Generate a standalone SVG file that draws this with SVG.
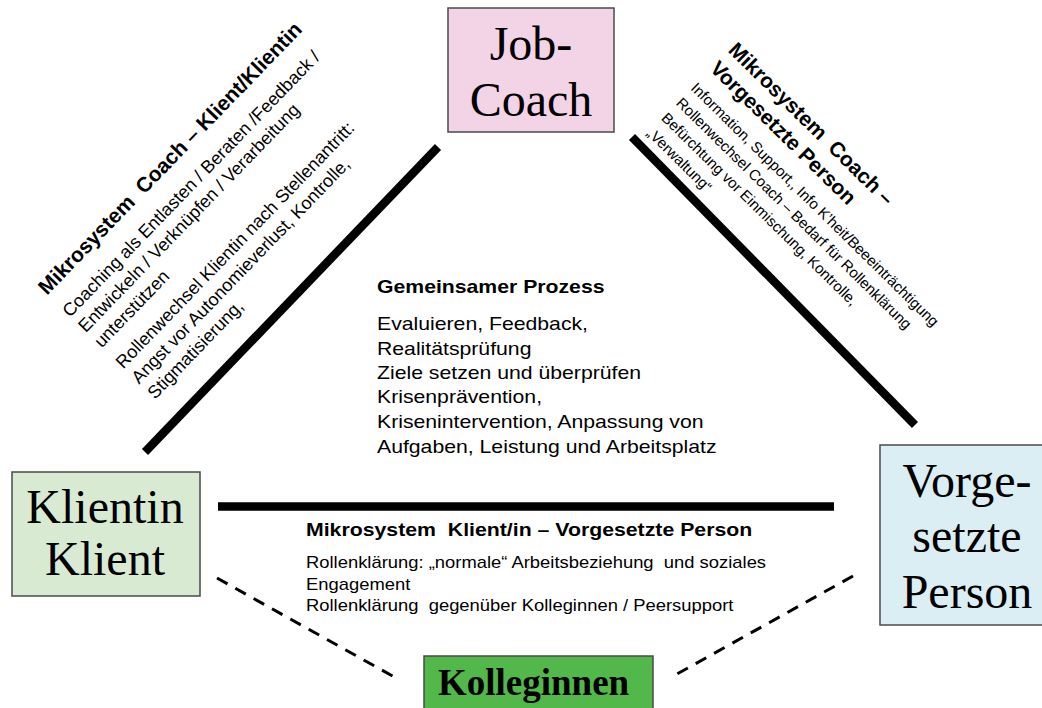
<svg xmlns="http://www.w3.org/2000/svg" width="1042" height="708" viewBox="0 0 1042 708">
<style>
.box{stroke:#4a4a4a;stroke-width:1.5}
.big{font-family:"Liberation Serif","Times New Roman",serif;font-size:48px;fill:#000;text-anchor:middle}
.sans{font-family:"Liberation Sans",Arial,sans-serif;fill:#000}
.b{font-weight:bold}
.thick{stroke:#000;stroke-width:8.5;fill:none}
.dash{stroke:#000;stroke-width:3;stroke-dasharray:12 9;fill:none}
</style>
<rect width="1042" height="708" fill="#fff"/>
<g id="connectors">
<line class="thick" x1="145" y1="452" x2="438" y2="147"/>
<line class="thick" x1="632" y1="137" x2="915" y2="425"/>
<line class="thick" x1="218" y1="506.5" x2="834" y2="506.5"/>
<line class="dash" x1="217" y1="578" x2="396" y2="678"/>
<line class="dash" x1="853" y1="576" x2="677" y2="674"/>
</g>
<g id="job-coach">
<rect class="box" x="448" y="8" width="166" height="124" fill="#f3d3e6"/>
<text class="big" x="531" y="60">Job-</text>
<text class="big" x="531" y="116">Coach</text>
</g>
<g id="klientin">
<rect class="box" x="12" y="472" width="188" height="124" fill="#d9ead3"/>
<text class="big" x="105" y="523">Klientin</text>
<text class="big" x="105" y="575">Klient</text>
</g>
<g id="vorgesetzte">
<rect class="box" x="880" y="445" width="175" height="180" fill="#daeef4"/>
<text class="big" x="967" y="497">Vorge-</text>
<text class="big" x="967" y="552">setzte</text>
<text class="big" x="967" y="608">Person</text>
</g>
<g id="kolleginnen">
<rect class="box" x="424" y="656" width="229" height="60" fill="#52b84a"/>
<text x="438" y="695" font-family="Liberation Serif, serif" font-weight="bold" font-size="37px">Kolleginnen</text>
</g>
<g id="label-coach-klient" class="sans" transform="translate(70,318) rotate(-46)" font-size="18px">
<text class="b" y="-32" font-size="21px" xml:space="preserve">Mikrosystem  Coach – Klient/Klientin</text>
<text y="0">Coaching als Entlasten / Beraten /Feedback /</text>
<text y="22">Entwickeln / Verknüpfen / Verarbeitung</text>
<text y="44">unterstützen</text>
<text y="74">Rollenwechsel Klientin nach Stellenantritt:</text>
<text y="96">Angst vor Autonomieverlust, Kontrolle,</text>
<text y="118">Stigmatisierung,</text>
</g>
<g id="label-coach-vorgesetzte" class="sans" transform="translate(690,89) rotate(44.5)" font-size="15px">
<text class="b" y="-53" font-size="21px" xml:space="preserve">Mikrosystem  Coach –</text>
<text class="b" y="-27" font-size="21px">Vorgesetzte Person</text>
<text y="0">Information, Support,, Info K’heit/Beeeinträchtigung</text>
<text y="21">Rollenwechsel Coach – Bedarf für Rollenklärung</text>
<text y="42">Befürchtung vor Einmischung, Kontrolle,</text>
<text y="63">„Verwaltung“</text>
</g>
<g id="label-prozess" class="sans" transform="translate(377,0) scale(1.16,1)" font-size="18.3px">
<text class="b" y="293">Gemeinsamer Prozess</text>
<text y="330">Evaluieren, Feedback,</text>
<text y="355">Realitätsprüfung</text>
<text y="379">Ziele setzen und überprüfen</text>
<text y="403">Krisenprävention,</text>
<text y="428">Krisenintervention, Anpassung von</text>
<text y="453">Aufgaben, Leistung und Arbeitsplatz</text>
</g>
<g id="label-klient-vorgesetzte" class="sans" transform="translate(306,0) scale(1.15,1)" font-size="16px">
<text class="b" y="536" font-size="18.5px" xml:space="preserve">Mikrosystem  Klient/in – Vorgesetzte Person</text>
<text y="568" xml:space="preserve">Rollenklärung: „normale“ Arbeitsbeziehung  und soziales</text>
<text y="590">Engagement</text>
<text y="611" xml:space="preserve">Rollenklärung  gegenüber Kolleginnen / Peersupport</text>
</g>
</svg>
